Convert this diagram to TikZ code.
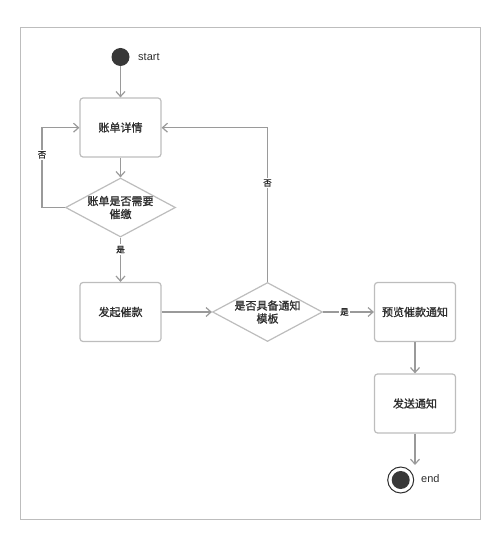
\documentclass[tikz,border=0pt]{standalone}
\usepackage{fontspec}
\setmainfont{Noto Sans CJK SC}[AutoFakeBold=1.2]
\newfontfamily\latinsf{Liberation Sans}
\usetikzlibrary{arrows.meta,shapes.geometric}
\definecolor{linegray}{HTML}{9A9A9A}
\definecolor{boxgray}{HTML}{BDBDBD}
\definecolor{txt}{HTML}{2E2E2E}
\tikzset{
  every node/.style={text=txt},
  actbox/.style={draw=boxgray, line width=1.2pt, rounded corners=3pt, fill=white,
    minimum width=81pt, minimum height=59pt, inner sep=0pt, font=\fontsize{11}{13}\selectfont\bfseries},
  decbox/.style={draw=boxgray, line width=1.2pt, diamond, fill=white, aspect=1.86,
    minimum width=110pt, minimum height=59pt, inner sep=0pt, align=center,
    font=\fontsize{11}{13}\selectfont\bfseries},
  flow/.style={draw=linegray, line width=1.3pt, -{Straight Barb[length=5pt,width=9pt,line width=1.2pt]}},
  plainflow/.style={draw=linegray, line width=1.3pt},
  lbl/.style={fill=white, inner sep=1.5pt, font=\fontsize{8.5}{10}\selectfont\bfseries},
  tag/.style={font=\latinsf\fontsize{11}{13}\selectfont, anchor=west, inner sep=0pt}
}
\begin{document}
\begin{tikzpicture}[x=1pt,y=-1pt]
\useasboundingbox (0,0) rectangle (500,537);
\draw[boxgray, line width=1pt] (20,27.5) rectangle (480,519.5);
% nodes
\node[circle, fill=txt!95, minimum size=18pt, inner sep=0pt] (start) at (120.5,57) {};
\node[tag] (startlbl) at (138,57) {start};
\node[actbox] (detail) at (120.5,127.5) {账单详情};
\node[decbox] (need) at (120.5,207.5) {账单是否需要\\催缴};
\node[actbox] (urge) at (120.5,312) {发起催款};
\node[decbox] (tmpl) at (267.5,312) {是否具备通知\\模板};
\node[actbox] (preview) at (415,312) {预览催款通知};
\node[actbox] (send) at (415,403.5) {发送通知};
\node[circle, draw=txt, line width=1pt, fill=white, minimum size=26pt, inner sep=0pt] (endo) at (400.7,480) {};
\node[circle, fill=txt!95, minimum size=18pt, inner sep=0pt] (endi) at (endo) {};
\node[tag] (endlbl) at (421,479) {end};
\coordinate (lc) at (42,207.5);
\coordinate (lt) at (42,127.7);
\coordinate (rt) at (267.5,127.7);
\coordinate (endtop) at (415,465);
% connectors
\draw[flow] (start) -- (detail);
\draw[flow] (detail) -- (need);
\draw[flow] (need.south) -- (urge.north) node[lbl, pos=0.27] {是};
\draw[plainflow] (need.west) -- (lc);
\draw[flow] (lc) -- (lt) node[lbl, pos=0.66] {否} -- (detail.west |- lt);
\draw[flow] (urge) -- (tmpl.west);
\draw[plainflow] (tmpl.north) -- (rt);
\draw[flow] (rt) -- (detail.east |- rt);
\node[lbl] (no2) at (267.5,183) {否};
\draw[flow] (tmpl.east) -- (preview.west) node[lbl, pos=0.42] {是};
\draw[flow] (preview) -- (send);
\draw[flow] (send.south) -- (endtop);
\end{tikzpicture}
\end{document}
